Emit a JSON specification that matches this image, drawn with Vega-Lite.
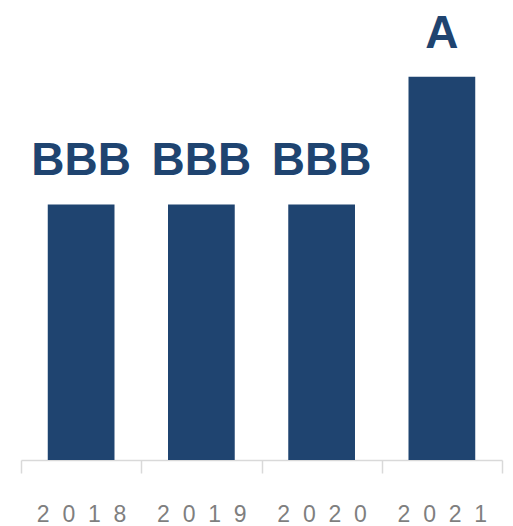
{
  "$schema": "https://vega.github.io/schema/vega-lite/v6.json",
  "autosize": "none",
  "width": 481,
  "height": 460,
  "padding": {"left": 21, "top": 0, "right": 11, "bottom": 66},
  "background": "white",
  "config": {"view": {"stroke": null}},
  "data": {"values": [
    {"year": "2018", "rating": "BBB", "score": 2},
    {"year": "2019", "rating": "BBB", "score": 2},
    {"year": "2020", "rating": "BBB", "score": 2},
    {"year": "2021", "rating": "A", "score": 3}
  ]},
  "encoding": {
    "x": {
      "field": "year", "type": "ordinal",
      "scale": {"paddingInner": 0, "paddingOuter": 0},
      "axis": {
        "title": null, "labelAngle": 0, "tickBand": "extent",
        "domainColor": "#d9d9d9", "domainWidth": 1.5,
        "tickColor": "#d9d9d9", "tickWidth": 1.5, "tickSize": 13,
        "labelFont": "Liberation Sans", "labelFontSize": 23, "labelColor": "#7f7f7f",
        "labelBaseline": "alphabetic", "labelPadding": 48,
        "labelExpr": "replace(datum.label, regexp('(\\\\d)(?=\\\\d)', 'g'), '$1\u2007')"
      }
    },
    "y": {
      "field": "score", "type": "quantitative",
      "scale": {"domain": [0, 3.6], "nice": false},
      "axis": null
    }
  },
  "layer": [
    {"mark": {"type": "bar", "color": "#1f4470", "width": {"band": 0.555}}},
    {
      "mark": {"type": "text", "font": "Liberation Sans", "fontWeight": "bold", "fontSize": 46, "color": "#1f4470", "baseline": "alphabetic", "dy": -29},
      "encoding": {"text": {"field": "rating"}}
    }
  ]
}
